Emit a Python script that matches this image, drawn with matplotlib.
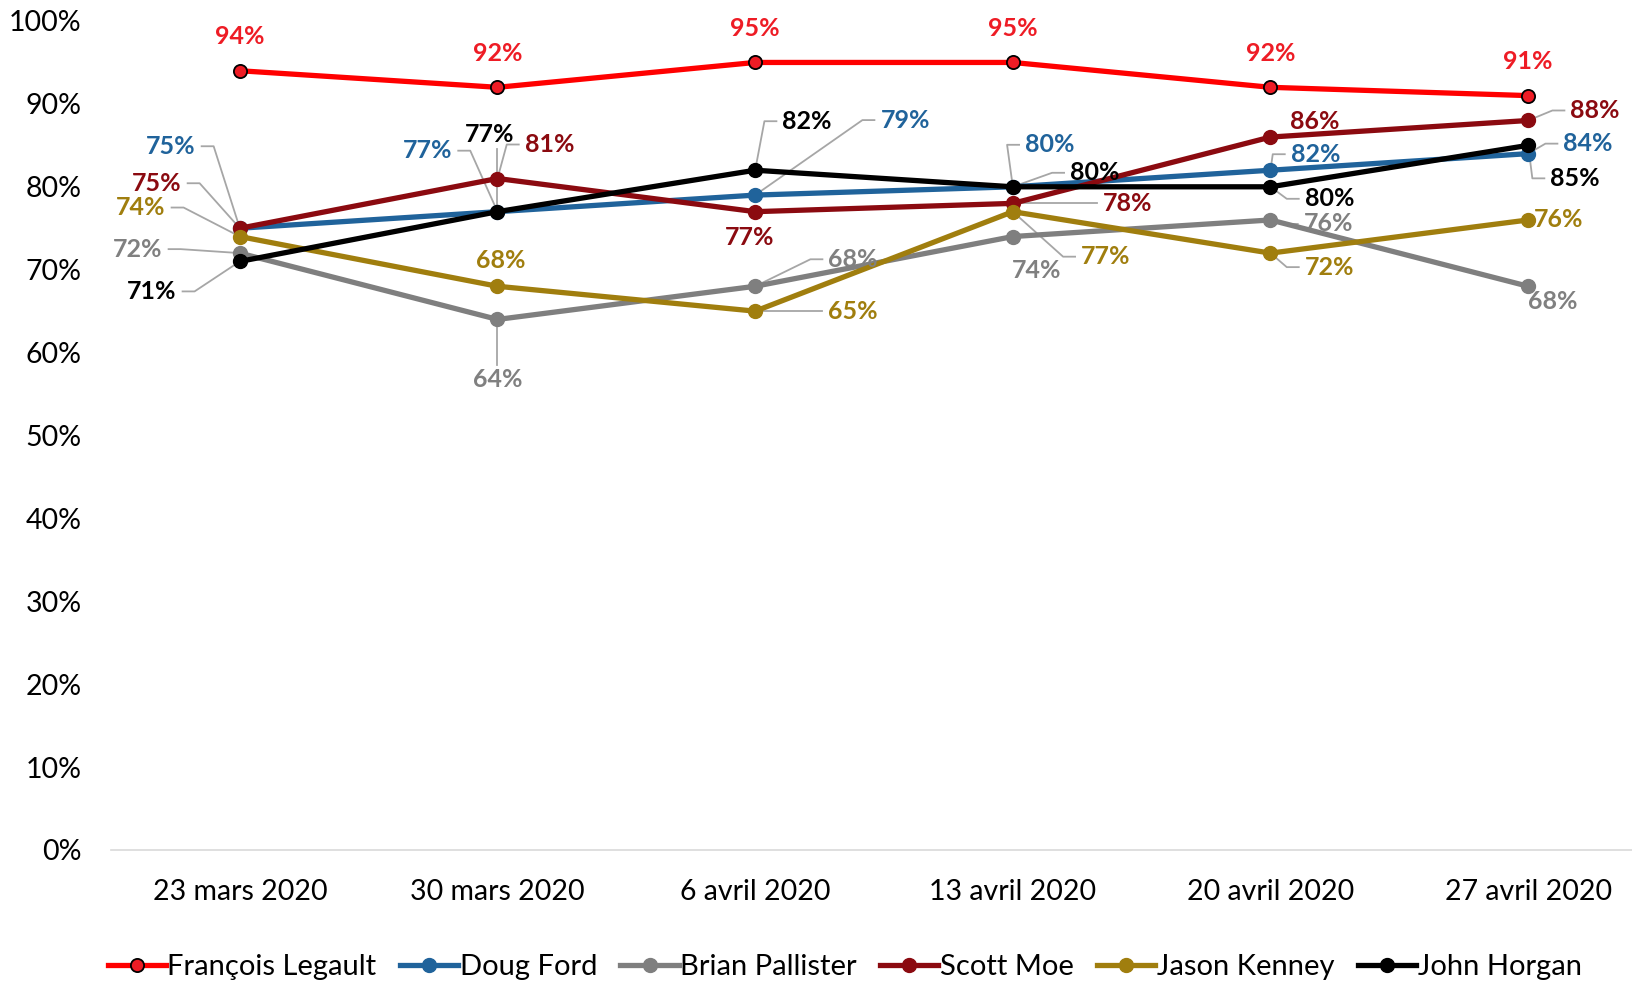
import numpy as np
import matplotlib.pyplot as plt
from matplotlib.lines import Line2D

plt.rcParams['font.family'] = ['Lato', 'DejaVu Sans']

# Survey dates
dates = ["23 mars 2020", "30 mars 2020", "6 avril 2020",
         "13 avril 2020", "20 avril 2020", "27 avril 2020"]

# Approval (%) per premier
legault = [94, 92, 95, 95, 92, 91]
ford = [75, 77, 79, 80, 82, 84]
pallister = [72, 64, 68, 74, 76, 68]
moe = [75, 81, 77, 78, 86, 88]
kenney = [74, 68, 65, 77, 72, 76]
horgan = [71, 77, 82, 80, 80, 85]

# Label offsets in pixels (dx, dy) and whether a leader line is drawn
legault_lbl = [(0, 34, False)] * 6
ford_lbl = [(-69, 82, True), (-70, 61, True), (150, 75, True),
            (37, 42, True), (45, 16, True), (60, 10, True)]
pallister_lbl = [(-102, 4, True), (0, -60, True), (98, 27, True),
                 (24, -34, False), (58, -4, True), (25, -15, False)]
moe_lbl = [(-83, 45, True), (52, 34, True), (-6, -26, False),
           (115, 0, True), (44, 16, False), (67, 10, True)]
kenney_lbl = [(-99, 29, True), (3, 26, False), (98, 0, True),
              (93, -45, True), (59, -14, True), (30, 0, False)]
horgan_lbl = [(-88, -30, True), (-8, 77, True), (52, 49, True),
              (82, 14, True), (59, -12, True), (47, -33, True)]

series = [
    ("François Legault", legault, "#FF0000", "#EE1C25", legault_lbl),
    ("Doug Ford", ford, "#20639B", "#20639B", ford_lbl),
    ("Brian Pallister", pallister, "#7F7F7F", "#808080", pallister_lbl),
    ("Scott Moe", moe, "#8B0A10", "#8B0A10", moe_lbl),
    ("Jason Kenney", kenney, "#A07E0E", "#A07E0E", kenney_lbl),
    ("John Horgan", horgan, "#000000", "#000000", horgan_lbl),
]

W, H = 1632, 982
fig = plt.figure(figsize=(W / 100, H / 100), dpi=100)
ax = fig.add_axes([111 / W, 1 - 850 / H, (1657 - 111) / W, (850 - 21) / H])

x = np.arange(len(dates))
handles = []
texts = []
for name, vals, col, lcol, lbls in series:
    if name == "François Legault":
        mk = dict(marker="o", markersize=9.5, markerfacecolor="#EE1C25",
                  markeredgecolor="black", markeredgewidth=1.3)
    else:
        mk = dict(marker="o", markersize=10, markerfacecolor=col,
                  markeredgecolor=col)
    ax.plot(x, vals, color=col, lw=3.8, zorder=3, clip_on=False, **mk)
    handles.append(Line2D([], [], color=col, lw=3.8, **mk))
    for xi, v, (dx, dy, lead) in zip(x, vals, lbls):
        t = ax.annotate(f"{v}%", (xi, v), xytext=(dx, dy),
                        textcoords="offset pixels", ha="center", va="center",
                        fontsize=18, fontweight="bold", color=lcol, zorder=5)
        texts.append((t, xi, v, dx, dy, lead))

ax.set_xlim(-0.5, 5.5)
ax.set_ylim(0, 100)
ax.set_xticks(x)
ax.set_xticklabels(dates, fontsize=20.5)
ax.set_yticks(np.arange(0, 101, 10))
ax.set_yticklabels([f"{v}%" for v in range(0, 101, 10)], fontsize=20.5)
ax.tick_params(axis="x", length=0, pad=21)
ax.tick_params(axis="y", length=0, pad=21)
for s in ["top", "right", "left"]:
    ax.spines[s].set_visible(False)
ax.spines["bottom"].set_color("#D9D9D9")
ax.spines["bottom"].set_linewidth(1.2)

# Leader lines from the labels back to their points
fig.canvas.draw()
renderer = fig.canvas.get_renderer()
inv = ax.transData.inverted()
for t, xi, v, dx, dy, lead in texts:
    if not lead:
        continue
    bb = t.get_window_extent(renderer)
    px, py = ax.transData.transform((xi, v))
    cx, cy = (bb.x0 + bb.x1) / 2, (bb.y0 + bb.y1) / 2
    if abs(dx) > bb.width / 2 + 4:
        sgn = np.sign(dx)
        e1 = cx - sgn * (bb.width / 2 + 6)
        e2 = e1 - sgn * 12
        pts = [(e1, cy), (e2, cy), (px, py)]
    else:
        ey = bb.y0 - 3 if dy > 0 else bb.y1 + 3
        pts = [(px, ey), (px, py)]
    dpts = inv.transform(pts)
    ax.plot(dpts[:, 0], dpts[:, 1], color="#A6A6A6", lw=1.3, zorder=1,
            clip_on=False)

fig.legend(handles, [s[0] for s in series], loc="center",
           bbox_to_anchor=(0.5175, 1 - 967 / H), ncol=6, frameon=False,
           fontsize=21, handlelength=2.0, handletextpad=0.05,
           columnspacing=0.8)

fig.savefig("out.png", dpi=100)
